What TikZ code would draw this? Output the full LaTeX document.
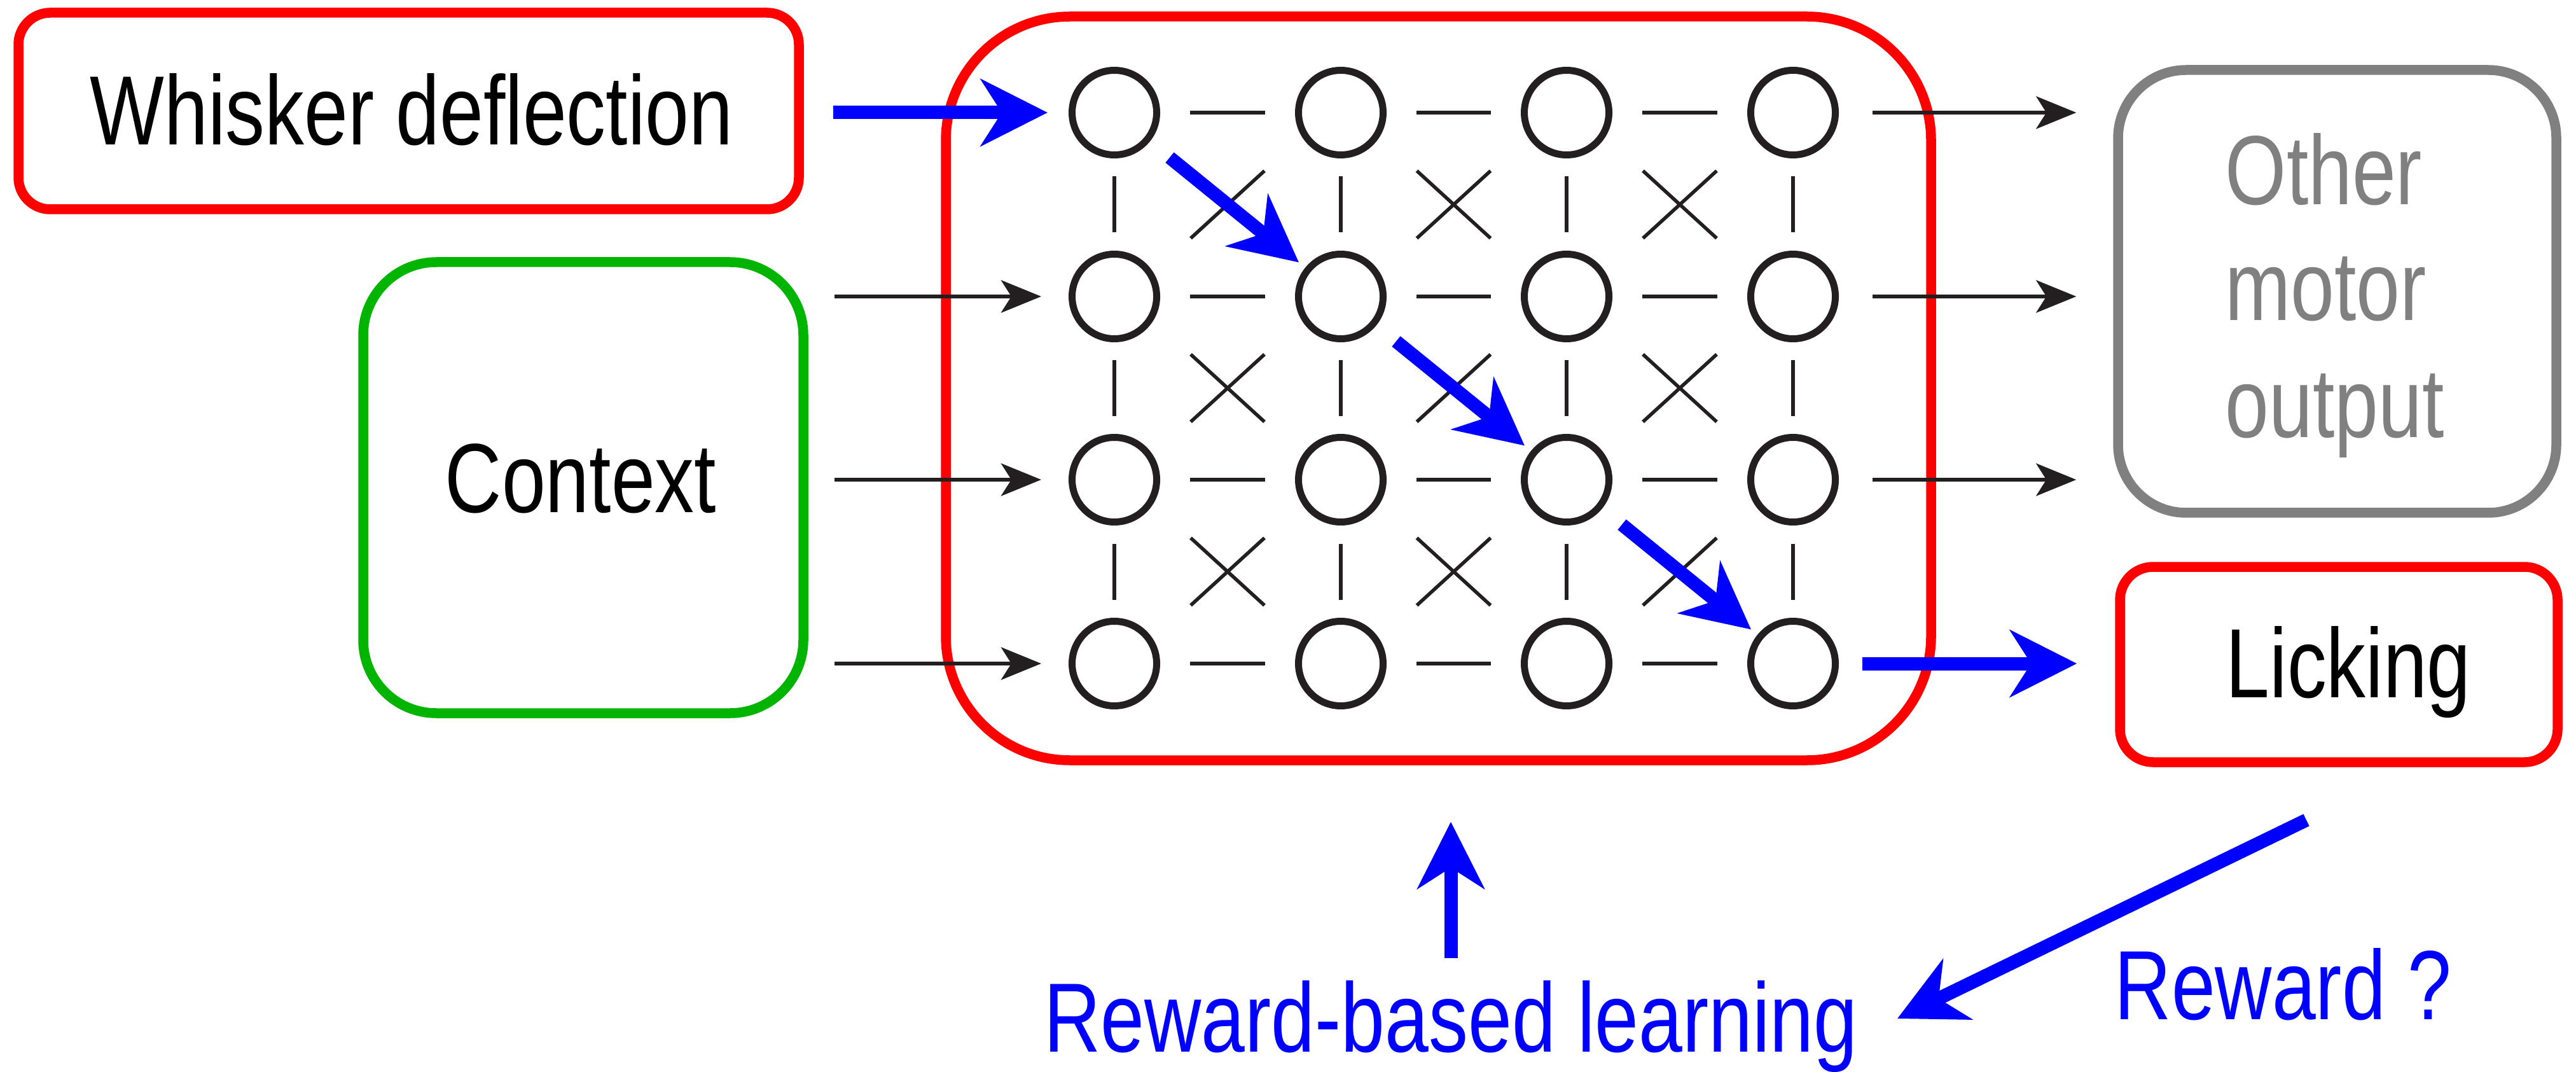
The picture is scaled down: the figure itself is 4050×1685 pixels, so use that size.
\documentclass[tikz,border=0pt]{standalone}
\usepackage{fontspec}
\setmainfont{Liberation Sans}[FakeStretch=0.80]
\usetikzlibrary{arrows.meta,calc}
\definecolor{inkblack}{RGB}{35,31,32}
\definecolor{boxred}{RGB}{255,0,0}
\definecolor{boxgreen}{RGB}{0,180,0}
\definecolor{boxgrey}{RGB}{128,128,128}
\definecolor{pathblue}{RGB}{0,0,255}
\begin{document}
\begin{tikzpicture}[x=0.1mm, y=-0.1mm,
  frame/.style={draw, rectangle, line width=1.55mm, inner sep=0pt},
  unit/.style={draw=inkblack, circle, line width=1.1mm, minimum size=13.3mm, inner sep=0pt},
  link/.style={draw=inkblack, line width=0.55mm},
  feed/.style={draw=inkblack, line width=0.65mm, -{Stealth[length=6.3mm, width=5.1mm, inset=1.6mm]}},
  route/.style={draw=pathblue, line width=2.1mm, -{Stealth[length=10.5mm, width=10.5mm, inset=3.3mm]}},
  lbl/.style={font=\fontsize{44pt}{52pt}\selectfont, inner sep=0pt, anchor=base},
]
\useasboundingbox (0,0) rectangle (4050,1685);

% boxes
\node[frame, draw=boxred, rounded corners=5mm, minimum width=122.7mm, minimum height=30.9mm] (whisk) at (642.5,174.5) {};
\node[frame, draw=boxgreen, rounded corners=11.5mm, minimum width=69.2mm, minimum height=70.9mm] (ctx) at (917,766.5) {};
\node[frame, draw=boxred, rounded corners=19.5mm, minimum width=154.9mm, minimum height=116.9mm] (net) at (2261.5,610.5) {};
\node[frame, draw=boxgrey, rounded corners=10.7mm, minimum width=68.9mm, minimum height=69.6mm] (other) at (3674.5,458) {};
\node[frame, draw=boxred, rounded corners=5.2mm, minimum width=68.8mm, minimum height=30.7mm] (lick) at (3677,1044.5) {};

% labels
\node[lbl] (whisktext) at (647,228) {Whisker deflection};
\node[lbl] (ctxtext) at (913,805) {Context};
\node[lbl, anchor=base west, text=boxgrey] (other1) at (3498,322) {Other};
\node[lbl, anchor=base west, text=boxgrey] (other2) at (3498,504) {motor};
\node[lbl, anchor=base west, text=boxgrey] (other3) at (3498,687) {output};
\node[lbl, anchor=base west] (licktext) at (3499,1096) {Licking};
\node[lbl, text=pathblue] (rbl) at (2281,1653) {Reward-based learning};
\node[lbl, anchor=base west, text=pathblue] (rwq) at (3324,1602) {Reward ?};

% network units
\foreach \r/\y in {1/177,2/466,3/754,4/1043}
  \foreach \c/\x in {1/1752,2/2108,3/2463,4/2819}
    \node[unit] (n\r\c) at (\x,\y) {};

% lateral links
\foreach \r in {1,...,4}
  \foreach \c/\d in {1/2,2/3,3/4}
    \draw[link, shorten <=4.7mm, shorten >=4.7mm] (n\r\c) -- (n\r\d);

% vertical links
\foreach \r/\s in {1/2,2/3,3/4}
  \foreach \c in {1,...,4}
    \draw[link, shorten <=2.85mm, shorten >=2.85mm] (n\r\c) -- (n\s\c);

% crossed links
\foreach \r/\s in {1/2,2/3,3/4}
  \foreach \c/\d in {1/2,2/3,3/4}
    \draw[link] ($(n\r\c)!0.5!(n\s\d)$) +(-58,-53) -- +(58,53) +(-58,53) -- +(58,-53);

% inputs
\draw[route, shorten <=4.6mm, shorten >=3.3mm] (whisk.east |- n11.west) -- (n11.west);
\foreach \r in {2,3,4}
  \draw[feed, shorten <=4.1mm, shorten >=4.3mm] (ctx.east |- n\r1.west) -- (n\r1.west);

% outputs
\foreach \r in {1,2,3}
  \draw[feed, shorten <=5.3mm, shorten >=5.8mm] (n\r4.east) -- (n\r4.east -| other.west);
\draw[route, shorten <=3.7mm, shorten >=6mm] (n44.east) -- (n44.east -| lick.west);

% learned pathway through the network
\foreach \a/\b in {11/22,22/33,33/44}
  \draw[route, shorten <=4.0mm, shorten >=1.3mm] (n\a) -- (n\b);

% reward loop
\draw[route, shorten <=3.4mm, shorten >=8.9mm] (rbl.north) -- (rbl.north |- net.south);
\coordinate (rwfrom) at (3626,1289);
\coordinate (rwto) at (2983,1601);
\draw[route] (rwfrom) -- (rwto);
\end{tikzpicture}
\end{document}
